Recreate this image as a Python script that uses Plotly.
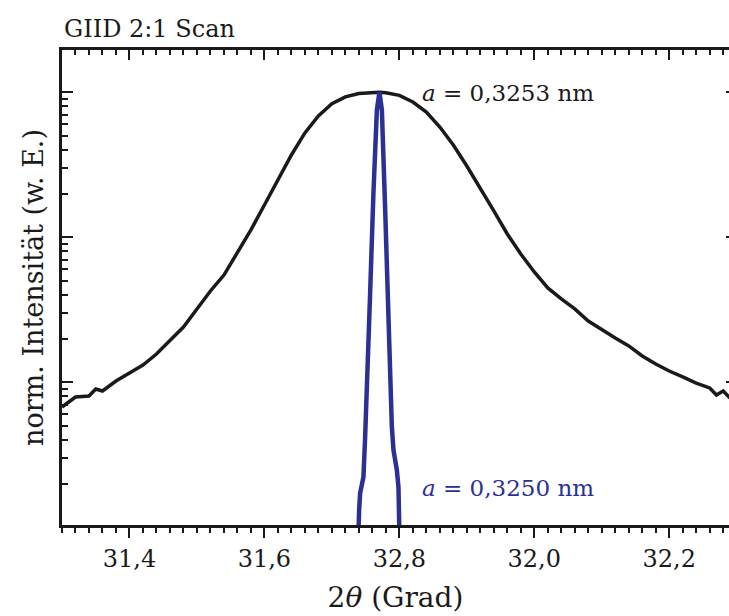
import plotly.graph_objects as go

# Black: broad peak (2theta in degrees, normalized intensity as log10)
black_x = [31.30, 31.32, 31.34, 31.35, 31.36, 31.38, 31.40, 31.42, 31.44, 31.46,
           31.48, 31.50, 31.52, 31.54, 31.56, 31.58, 31.60, 31.62, 31.64, 31.66,
           31.68, 31.70, 31.72, 31.74, 31.76, 31.77, 31.78, 31.80, 31.82, 31.84,
           31.86, 31.88, 31.90, 31.92, 31.94, 31.96, 31.98, 32.00, 32.02, 32.04,
           32.06, 32.08, 32.10, 32.12, 32.14, 32.16, 32.18, 32.20, 32.22, 32.24,
           32.26, 32.27, 32.28, 32.29]
black_log = [-2.171, -2.102, -2.095, -2.047, -2.061, -1.992, -1.937, -1.882, -1.806, -1.716,
             -1.620, -1.495, -1.371, -1.261, -1.109, -0.950, -0.778, -0.606, -0.433, -0.281,
             -0.164, -0.080, -0.032, -0.009, -0.001, 0.0, -0.004, -0.022, -0.068, -0.137,
             -0.240, -0.364, -0.509, -0.661, -0.819, -0.978, -1.116, -1.240, -1.350, -1.426,
             -1.495, -1.578, -1.640, -1.695, -1.750, -1.819, -1.875, -1.923, -1.964, -2.006,
             -2.040, -2.088, -2.061, -2.109]

# Blue: narrow peak
blue_x = [31.7390, 31.7394, 31.7404, 31.7419, 31.7468, 31.7493, 31.7519, 31.7567, 31.7616,
          31.7667, 31.7705, 31.7741, 31.7790, 31.7838, 31.7889, 31.7913, 31.7963, 31.7987,
          31.8001, 31.8003]
blue_log = [-3.1, -2.985, -2.881, -2.764, -2.654, -2.378, -1.964, -1.385, -0.695,
            -0.123, 0.0, -0.123, -0.812, -1.619, -2.309, -2.468, -2.606, -2.723,
            -2.971, -3.1]

black_y = [10 ** v for v in black_log]
blue_y = [10 ** v for v in blue_log]

tick_vals = [31.4, 31.6, 31.8, 32.0, 32.2]
tick_text = ["31,4", "31,6", "32,8", "32,0", "32,2"]

BLUE = "#2b3194"
INK = "#1a1a1a"
FONT = "DejaVu Serif"

fig = go.Figure()
fig.add_trace(go.Scatter(x=black_x, y=black_y, mode="lines",
                         line=dict(color=INK, width=3.5), showlegend=False))
fig.add_trace(go.Scatter(x=blue_x, y=blue_y, mode="lines",
                         line=dict(color=BLUE, width=4.5), showlegend=False))
# invisible trace to activate helper axes
fig.add_trace(go.Scatter(x=[31.5], y=[0.1], xaxis="x2", yaxis="y2", mode="markers",
                         marker=dict(opacity=0), showlegend=False, hoverinfo="skip"))

xr = [31.3, 31.3 + (729 - 61.7) / 675]
yr = [-2.985, 0.291]

fig.update_layout(
    width=729, height=616,
    margin=dict(l=62, r=0, t=50, b=91),
    plot_bgcolor="white", paper_bgcolor="white",
    font=dict(family=FONT, color=INK),
    xaxis=dict(range=xr, tickvals=tick_vals, ticktext=tick_text,
               ticks="outside", ticklen=10, tickwidth=2, tickcolor=INK,
               showline=True, linewidth=2.5, linecolor=INK,
               showgrid=False, zeroline=False,
               tickfont=dict(size=24, family=FONT),
               minor=dict(dtick=0.02, tick0=31.3, ticks="outside", ticklen=5,
                          tickwidth=2, tickcolor=INK, showgrid=False),
               title=dict(text="2<i>θ</i> (Grad)", font=dict(size=28, family=FONT),
                          standoff=16)),
    xaxis2=dict(range=xr, overlaying="x", side="top", anchor="y",
                tickvals=tick_vals, ticks="inside", ticklen=10, tickwidth=2,
                tickcolor=INK, showticklabels=False,
                showline=True, linewidth=2.5, linecolor=INK,
                showgrid=False, zeroline=False,
                minor=dict(dtick=0.02, tick0=31.3, ticks="inside", ticklen=5,
                           tickwidth=2, tickcolor=INK, showgrid=False)),
    yaxis=dict(type="log", range=yr, dtick=1, ticks="inside", ticklen=11,
               tickwidth=2, tickcolor=INK, showticklabels=False,
               showline=True, linewidth=2.5, linecolor=INK,
               showgrid=False, zeroline=False,
               minor=dict(dtick="D1", ticks="inside", ticklen=6, tickwidth=2,
                          tickcolor=INK, showgrid=False),
               title=dict(text="norm. Intensität (w. E.)",
                          font=dict(size=27, family=FONT), standoff=8)),
    yaxis2=dict(type="log", range=yr, dtick=1, overlaying="y", side="right",
                anchor="x", ticks="inside", ticklen=3, tickwidth=2,
                tickcolor=INK, showticklabels=False, showline=False,
                showgrid=False, zeroline=False),
    annotations=[
        dict(text="GIID 2:1 Scan", xref="paper", yref="paper", x=0, y=1.0,
             xanchor="left", yanchor="bottom", yshift=5, showarrow=False,
             font=dict(size=24, family=FONT, color=INK)),
        dict(text="<i>a</i> = 0,3253 nm", xref="x", yref="y", x=31.831, y=-0.006,
             xanchor="left", yanchor="middle", showarrow=False,
             font=dict(size=23, family=FONT, color=INK)),
        dict(text="<i>a</i> = 0,3250 nm", xref="x", yref="y", x=31.831, y=-2.73,
             xanchor="left", yanchor="middle", showarrow=False,
             font=dict(size=23, family=FONT, color=BLUE)),
    ],
)

fig.write_html("out.html")
